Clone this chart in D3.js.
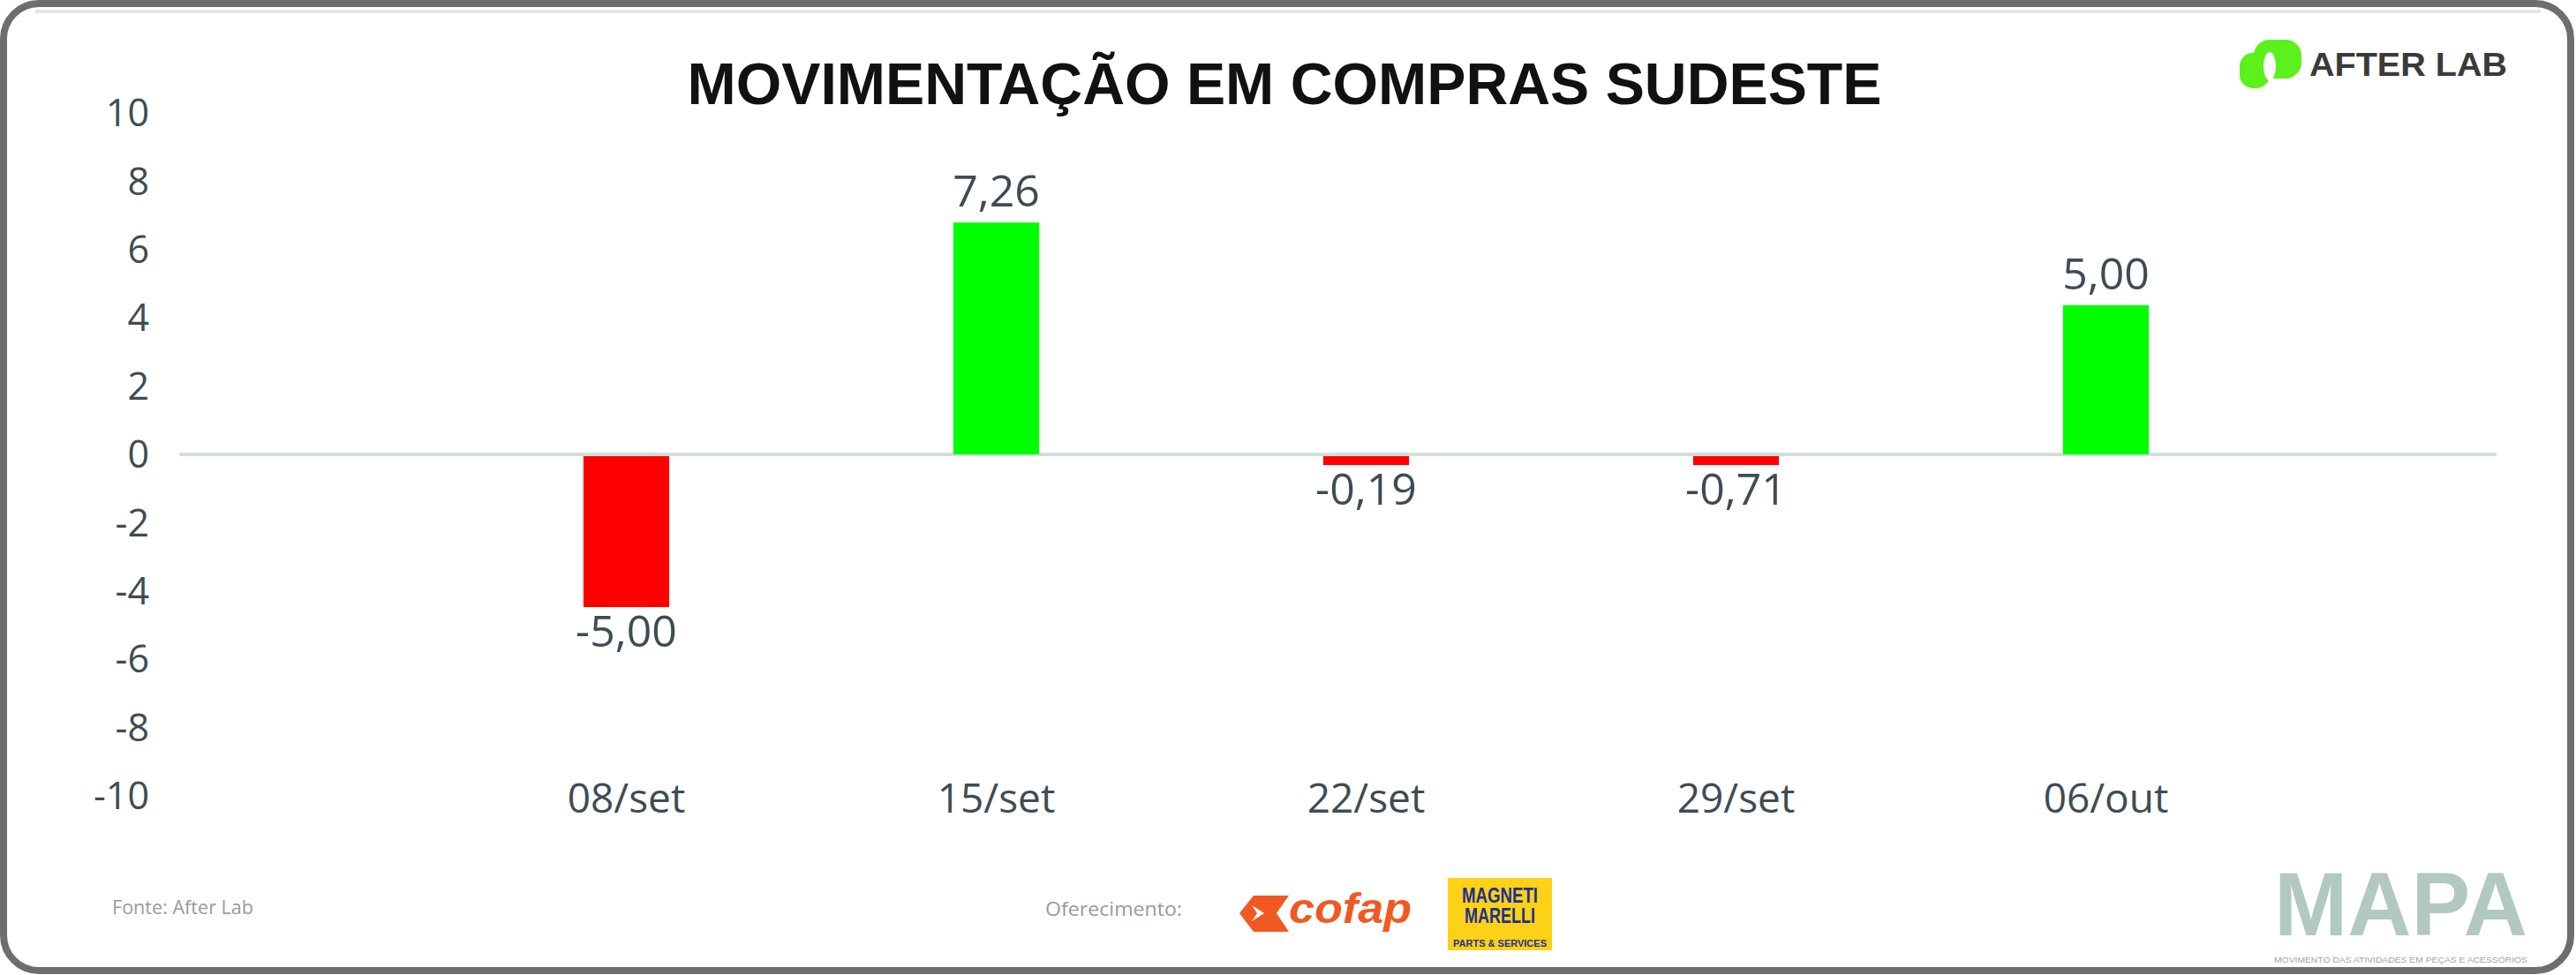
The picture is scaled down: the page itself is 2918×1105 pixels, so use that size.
<!DOCTYPE html>
<html>
<head>
<meta charset="utf-8">
<script src="https://cdn.jsdelivr.net/npm/d3@7"></script>
<style>
  html, body { margin: 0; padding: 0; background: #ffffff; }
  svg { display: block; }
</style>
</head>
<body>
<svg id="chart" width="2918" height="1105"></svg>
<script>
// ---- data ----
const categories = ["08/set", "15/set", "22/set", "29/set", "06/out"];
const barValues = [-4.42, 6.79, -0.26, -0.26, 4.37];          // bar lengths as drawn
const barLabels = ["-5,00", "7,26", "-0,19", "-0,71", "5,00"]; // data labels printed
const yTickValues = [-10, -8, -6, -4, -2, 0, 2, 4, 6, 8, 10];
const titleText = "MOVIMENTAÇÃO EM COMPRAS SUDESTE";
const sourceText = "Fonte: After Lab";
const sponsorText = "Oferecimento:";

const svg = d3.select("#chart");
const W = 2918, H = 1105;
const font = "'Open Sans', 'Segoe UI', sans-serif";
const textColor = "#3e4c53";

// frame
svg.append("rect")
  .attr("x", 4).attr("y", 4).attr("width", W - 10).attr("height", H - 9)
  .attr("rx", 40).attr("ry", 40)
  .attr("fill", "#ffffff").attr("stroke", "#6e6e6e").attr("stroke-width", 8);
svg.append("line")
  .attr("x1", 40).attr("x2", W - 40).attr("y1", 13).attr("y2", 13)
  .attr("stroke", "#e6e6e6").attr("stroke-width", 4);

// scales
const x = d3.scaleBand()
  .domain(categories)
  .range([500, 2595])
  .paddingInner(0.768)
  .paddingOuter(0.384);

const y = d3.scaleLinear()
  .domain([-10, 10])
  .range([902, 128]);

// y axis (labels only)
const yAxis = d3.axisLeft(y)
  .tickValues(yTickValues)
  .tickSize(0)
  .tickPadding(0)
  .tickFormat(d => d3.format("d")(d).replace("−", "-"));
const gy = svg.append("g").attr("transform", "translate(169,1)").call(yAxis);
gy.select(".domain").remove();
gy.selectAll("text")
  .attr("font-family", font)
  .attr("font-size", 43)
  .attr("fill", textColor);

// zero line
svg.append("line")
  .attr("x1", 203).attr("x2", 2828)
  .attr("y1", y(0)).attr("y2", y(0))
  .attr("stroke", "#d3dedb").attr("stroke-width", 4);

// bars
svg.append("g").selectAll("rect")
  .data(categories)
  .join("rect")
  .attr("x", d => x(d))
  .attr("width", x.bandwidth())
  .attr("y", (d, i) => y(Math.max(0, barValues[i])) + (barValues[i] < 0 ? 2 : 0))
  .attr("height", (d, i) => Math.abs(y(barValues[i]) - y(0)))
  .attr("fill", (d, i) => barValues[i] >= 0 ? "#00ff00" : "#ff0000");

// data labels
svg.append("g").selectAll("text")
  .data(categories)
  .join("text")
  .attr("x", d => x(d) + x.bandwidth() / 2)
  .attr("y", (d, i) => barValues[i] >= 0 ? y(barValues[i]) - 18 : y(barValues[i]) + 47)
  .attr("text-anchor", "middle")
  .attr("font-family", font)
  .attr("font-size", 50)
  .attr("fill", textColor)
  .text((d, i) => barLabels[i]);

// x axis labels
const xAxis = d3.axisBottom(x).tickSize(0).tickPadding(0);
const gx = svg.append("g").attr("transform", "translate(0,921)").call(xAxis);
gx.select(".domain").remove();
gx.selectAll("text")
  .attr("dy", 0)
  .attr("font-family", font)
  .attr("font-size", 46)
  .attr("fill", textColor);

// title
svg.append("text")
  .attr("x", 1455).attr("y", 118)
  .attr("text-anchor", "middle")
  .attr("font-family", "'Liberation Sans', Arial, sans-serif")
  .attr("font-weight", "bold")
  .attr("font-size", 66)
  .attr("textLength", 1353).attr("lengthAdjust", "spacingAndGlyphs")
  .attr("fill", "#111111")
  .text(titleText);

// After Lab logo
const al = svg.append("g");
al.append("rect").attr("x", 2553).attr("y", 45).attr("width", 54).attr("height", 44)
  .attr("rx", 18).attr("fill", "#5cf01c");
al.append("rect").attr("x", 2537).attr("y", 60).attr("width", 34).attr("height", 40)
  .attr("rx", 15).attr("fill", "#5cf01c");
al.append("ellipse").attr("cx", 2571).attr("cy", 75).attr("rx", 7).attr("ry", 16)
  .attr("fill", "#ffffff");
al.append("text")
  .attr("x", 2616).attr("y", 86)
  .attr("font-family", "'Liberation Sans', Arial, sans-serif")
  .attr("font-weight", "bold").attr("font-size", 36)
  .attr("textLength", 224).attr("lengthAdjust", "spacingAndGlyphs")
  .attr("fill", "#3a3a3a")
  .text("AFTER LAB");

// footer: source
svg.append("text")
  .attr("x", 127).attr("y", 1036)
  .attr("font-family", font).attr("font-size", 22)
  .attr("textLength", 160).attr("lengthAdjust", "spacingAndGlyphs")
  .attr("fill", "#9a9a9a")
  .text(sourceText);

// footer: sponsor
svg.append("text")
  .attr("x", 1184).attr("y", 1038)
  .attr("font-family", font).attr("font-size", 22)
  .attr("textLength", 155).attr("lengthAdjust", "spacingAndGlyphs")
  .attr("fill", "#9a9a9a")
  .text(sponsorText);

// cofap logo
const cf = svg.append("g");
cf.append("polygon")
  .attr("points", "1420,1015 1460,1015 1446,1035 1460,1056 1420,1056 1404,1035")
  .attr("fill", "#f05a22");
cf.append("polygon")
  .attr("points", "1418,1026 1432,1035 1418,1044 1424,1035")
  .attr("fill", "#ffffff");
cf.append("text")
  .attr("x", 1460).attr("y", 1046)
  .attr("font-family", "'Liberation Sans', Arial, sans-serif")
  .attr("font-weight", "bold").attr("font-style", "italic").attr("font-size", 48)
  .attr("textLength", 139).attr("lengthAdjust", "spacingAndGlyphs")
  .attr("fill", "#f05a22")
  .text("cofap");

// Magneti Marelli logo
const mm = svg.append("g");
mm.append("rect").attr("x", 1640).attr("y", 995).attr("width", 118).attr("height", 82)
  .attr("fill", "#fcd116");
mm.append("text").attr("x", 1699).attr("y", 1023).attr("text-anchor", "middle")
  .attr("font-family", "'Liberation Sans Narrow', 'Liberation Sans', Arial, sans-serif")
  .attr("font-weight", "bold").attr("font-size", 24)
  .attr("textLength", 86).attr("lengthAdjust", "spacingAndGlyphs")
  .attr("fill", "#1c2f94").text("MAGNETI");
mm.append("text").attr("x", 1699).attr("y", 1046).attr("text-anchor", "middle")
  .attr("font-family", "'Liberation Sans Narrow', 'Liberation Sans', Arial, sans-serif")
  .attr("font-weight", "bold").attr("font-size", 24)
  .attr("textLength", 80).attr("lengthAdjust", "spacingAndGlyphs")
  .attr("fill", "#1c2f94").text("MARELLI");
mm.append("text").attr("x", 1699).attr("y", 1073).attr("text-anchor", "middle")
  .attr("font-family", "'Liberation Sans Narrow', 'Liberation Sans', Arial, sans-serif")
  .attr("font-weight", "bold").attr("font-size", 11)
  .attr("textLength", 106).attr("lengthAdjust", "spacingAndGlyphs")
  .attr("fill", "#1c2f94").text("PARTS & SERVICES");

// MAPA logo
svg.append("text")
  .attr("x", 2576).attr("y", 1060)
  .attr("font-family", "'Liberation Sans Narrow', 'Liberation Sans', Arial, sans-serif")
  .attr("font-weight", "bold").attr("font-size", 102)
  .attr("textLength", 287).attr("lengthAdjust", "spacingAndGlyphs")
  .attr("fill", "#b2c8c2")
  .text("MAPA");
svg.append("text")
  .attr("x", 2576).attr("y", 1091)
  .attr("font-family", "'Liberation Sans', Arial, sans-serif")
  .attr("font-size", 9)
  .attr("textLength", 287).attr("lengthAdjust", "spacingAndGlyphs")
  .attr("fill", "#9aa6a3")
  .text("MOVIMENTO DAS ATIVIDADES EM PEÇAS E ACESSÓRIOS");
</script>
</body>
</html>
